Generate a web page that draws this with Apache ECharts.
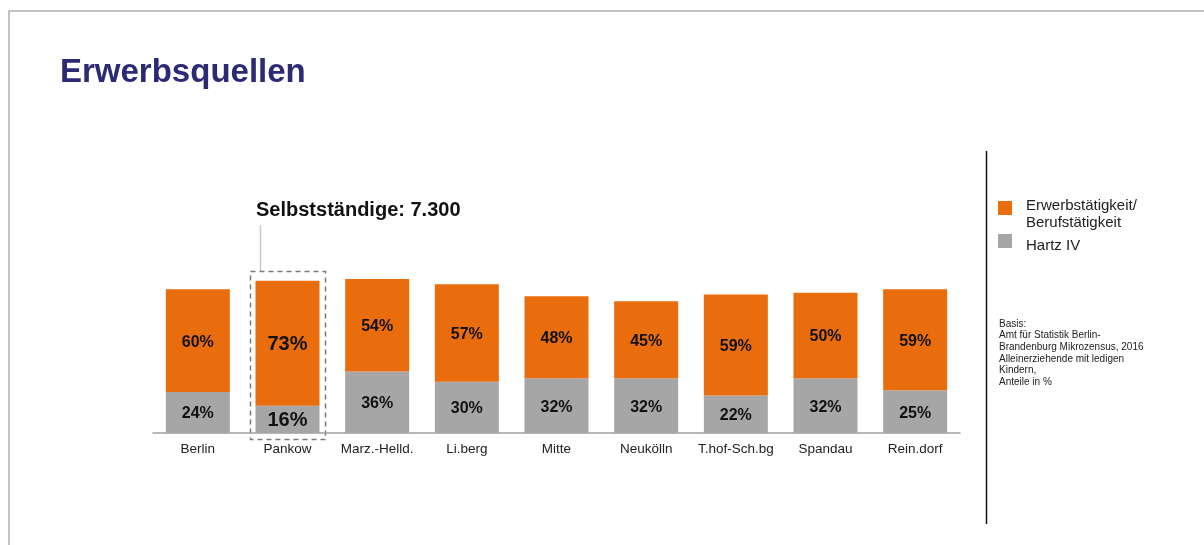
<!DOCTYPE html>
<html>
<head>
<meta charset="utf-8">
<script src="https://cdn.jsdelivr.net/npm/echarts@6/dist/echarts.min.js"></script>
<style>
  html, body { margin: 0; padding: 0; background: #fff; }
  #chart { width: 1204px; height: 545px; }
</style>
</head>
<body>
<div id="chart"></div>
<script>
// Bezirke (Berlin gesamt und Bezirke)
const categories = ['Berlin', 'Pankow', 'Marz.-Helld.', 'Li.berg', 'Mitte', 'Neukölln', 'T.hof-Sch.bg', 'Spandau', 'Rein.dorf'];
// Anteile in %
const hartzIV = [24, 16, 36, 30, 32, 32, 22, 32, 25];
const erwerb = [60, 73, 54, 57, 48, 45, 59, 50, 59];
const seriesNames = ['Erwerbstätigkeit/\nBerufstätigkeit', 'Hartz IV'];
const highlightIndex = 1; // Pankow
const calloutText = 'Selbstständige: 7.300';
const sourceLines = ['Basis:', 'Amt für Statistik Berlin-', 'Brandenburg Mikrozensus, 2016', 'Alleinerziehende mit ledigen', 'Kindern,', 'Anteile in %'];

const ORANGE = '#E96C0D';
const GRAY = '#A6A6A6';
const FONT = '"Liberation Sans", Arial, sans-serif';

const chart = echarts.init(document.getElementById('chart'), null, { renderer: 'canvas' });

function items(values) {
  return values.map((v, i) => i === highlightIndex
    ? { value: v, label: { fontSize: 20 } }
    : v);
}

const GRID = { left: 153, top: 262, width: 807, height: 171 };

const graphic = [
  // frame
  { type: 'polyline', shape: { points: [[9, 545], [9, 11], [1204, 11]] }, style: { stroke: '#C3C3C3', lineWidth: 2, fill: null } },
  // divider
  { type: 'line', shape: { x1: 986.5, y1: 151, x2: 986.5, y2: 524 }, style: { stroke: '#111', lineWidth: 1.5 } },
  // legend
  { type: 'rect', shape: { x: 998, y: 201, width: 14, height: 14 }, style: { fill: ORANGE } },
  { type: 'text', x: 1026, y: 197, style: { text: seriesNames[0], font: '15px ' + FONT, fill: '#222', lineHeight: 17 } },
  { type: 'rect', shape: { x: 998, y: 234, width: 14, height: 14 }, style: { fill: GRAY } },
  { type: 'text', x: 1026, y: 238, style: { text: seriesNames[1], font: '15px ' + FONT, fill: '#222' } },
  // source note
  { type: 'text', x: 999, y: 318, style: { text: sourceLines.join('\n'), font: '10px ' + FONT, fill: '#222', lineHeight: 11.7 } },
  // callout
  { type: 'text', x: 256, y: 200, style: { text: calloutText, font: 'bold 20px ' + FONT, fill: '#111' } },
  { type: 'line', shape: { x1: 260.5, y1: 225, x2: 260.5, y2: 271 }, style: { stroke: '#C8C8C8', lineWidth: 1.5 } },
  { type: 'rect', shape: { x: 250.5, y: 271.5, width: 75, height: 168 }, style: { stroke: '#7A7A7A', lineWidth: 1.5, lineDash: [5, 4], fill: null } }
];

const barLabel = { show: true, position: 'inside', offset: [0, 1.5], formatter: '{c}%', fontSize: 16, fontWeight: 'bold', color: '#111', fontFamily: FONT };

chart.setOption({
  animation: false,
  textStyle: { fontFamily: FONT },
  title: {
    text: 'Erwerbsquellen',
    left: 55, top: 51,
    textStyle: { fontSize: 33, fontWeight: 'bold', color: '#2C2A74', fontFamily: FONT }
  },
  grid: GRID,
  xAxis: {
    type: 'category',
    data: categories,
    axisLine: { lineStyle: { color: '#A0A0A0', width: 1.5 } },
    axisTick: { show: false },
    axisLabel: { color: '#222', fontSize: 13.5, margin: 9, interval: 0, fontFamily: FONT }
  },
  yAxis: {
    type: 'value', min: 0, max: 100,
    show: false, splitLine: { show: false }
  },
  series: [
    {
      name: seriesNames[1], type: 'bar', stack: 'total', barWidth: 64,
      data: items(hartzIV),
      itemStyle: { color: GRAY },
      label: barLabel
    },
    {
      name: seriesNames[0], type: 'bar', stack: 'total', barWidth: 64,
      data: items(erwerb),
      itemStyle: { color: ORANGE },
      label: barLabel
    }
  ],
  graphic: graphic
});
</script>
</body>
</html>
